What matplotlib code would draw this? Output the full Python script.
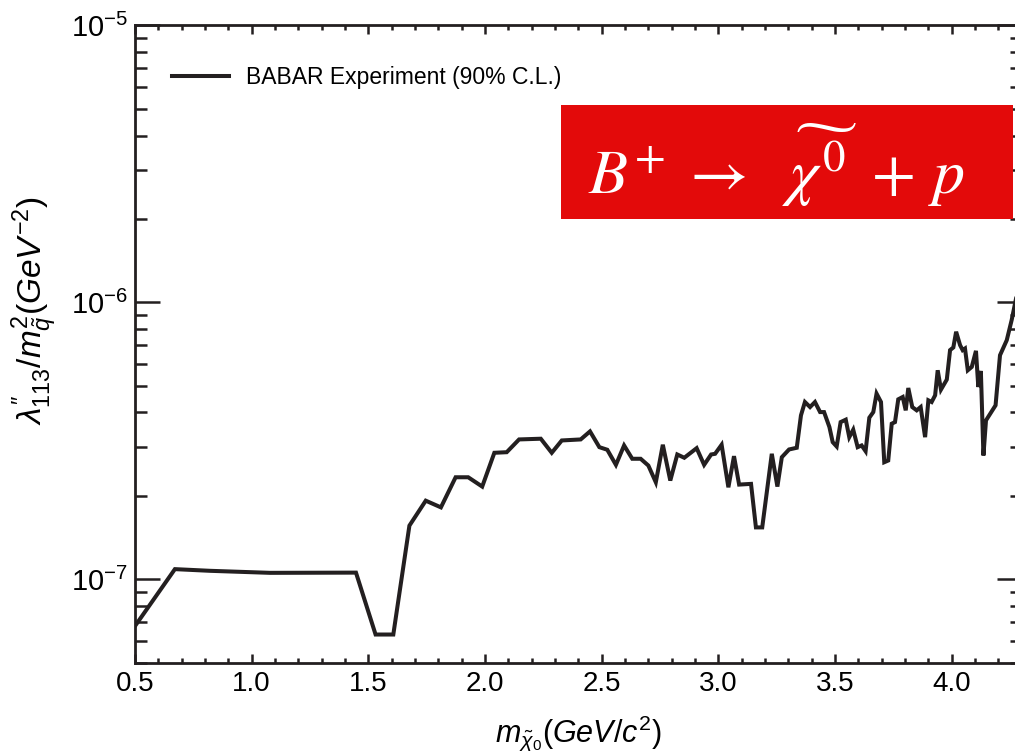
import matplotlib
matplotlib.use("Agg")
import matplotlib.pyplot as plt
from matplotlib.patches import Rectangle
from matplotlib.ticker import MultipleLocator, LogLocator, NullFormatter, FormatStrFormatter

plt.rcParams['font.family'] = ['Liberation Sans', 'DejaVu Sans']
plt.rcParams['mathtext.fontset'] = 'custom'
plt.rcParams['mathtext.rm'] = 'Liberation Sans'
plt.rcParams['mathtext.it'] = 'Liberation Sans:italic'
plt.rcParams['mathtext.bf'] = 'Liberation Sans:bold'

# Neutralino mass (GeV/c^2)
mass = [0.500, 0.671, 0.821, 1.079, 1.447, 1.531, 1.607, 1.676, 1.746, 1.811,
        1.874, 1.928, 1.988, 2.040, 2.093, 2.146, 2.239, 2.286, 2.329, 2.410,
        2.450, 2.490, 2.524, 2.561, 2.596, 2.631, 2.667, 2.700, 2.732, 2.762,
        2.794, 2.824, 2.854, 2.907, 2.939, 2.969, 2.986, 3.014, 3.043, 3.067,
        3.089, 3.140, 3.161, 3.188, 3.229, 3.253, 3.272, 3.303, 3.336, 3.354,
        3.371, 3.393, 3.414, 3.436, 3.453, 3.476, 3.490, 3.507, 3.524, 3.546,
        3.561, 3.578, 3.597, 3.614, 3.631, 3.647, 3.664, 3.678, 3.697, 3.711,
        3.728, 3.743, 3.757, 3.771, 3.790, 3.803, 3.814, 3.831, 3.850, 3.867,
        3.886, 3.900, 3.914, 3.929, 3.940, 3.954, 3.979, 3.993, 4.007, 4.019,
        4.036, 4.047, 4.057, 4.069, 4.086, 4.104, 4.114, 4.125, 4.136, 4.147,
        4.188, 4.207, 4.236, 4.257, 4.300]

# 90% C.L. upper limit on lambda''_113 / m_squark^2, in units of 1e-7 GeV^-2
limit_e7 = [0.677, 1.087, 1.072, 1.054, 1.056, 0.631, 0.631, 1.561, 1.921, 1.817,
            2.334, 2.334, 2.160, 2.861, 2.875, 3.197, 3.216, 2.861, 3.170, 3.197,
            3.418, 2.998, 2.934, 2.588, 3.041, 2.722, 2.722, 2.573, 2.239, 3.059,
            2.271, 2.821, 2.745, 2.973, 2.588, 2.821, 2.837, 3.059, 2.147, 2.782,
            2.196, 2.209, 1.538, 1.538, 2.837, 2.160, 2.758, 2.941, 2.983, 3.905,
            4.364, 4.185, 4.364, 4.014, 4.014, 3.543, 3.126, 3.015, 3.693, 3.768,
            3.258, 3.467, 2.998, 3.041, 2.900, 3.831, 4.014, 4.681, 4.364, 2.645,
            2.683, 3.644, 3.693, 4.463, 4.550, 4.072, 4.904, 4.185, 4.072, 4.185,
            3.258, 4.426, 4.364, 4.615, 5.684, 4.839, 5.260, 6.720, 6.870, 7.830,
            7.000, 6.720, 6.810, 5.684, 5.844, 6.680, 4.945, 5.651, 2.798, 3.746,
            4.246, 6.440, 7.300, 8.630, 13.00]

limit = [v * 1e-7 for v in limit_e7]

legend_label = "BABAR Experiment (90% C.L.)"
x_label = r"$m_{\tilde{\chi}_0}(GeV/c^2)$"
y_label = r"$\lambda^{\prime\prime}_{113}/m^2_{\tilde{q}}(GeV^{-2})$"
process_label = r"$B^{+}\;\rightarrow\ \ \widetilde{\chi^{0}}\ +\,p$"

W, H = 1015, 754
fig = plt.figure(figsize=(W / 100, H / 100), dpi=100)
ax = fig.add_axes([135 / W, 91.5 / H, 886.7 / W, 637 / H])

line_color = "#231f20"
ax.plot(mass, limit, color=line_color, lw=2.9, solid_joinstyle="miter",
        label=legend_label)

ax.set_yscale("log")
ax.set_xlim(0.5, 4.3)
ax.set_ylim(5e-8, 1e-5)

ax.xaxis.set_major_locator(MultipleLocator(0.5))
ax.xaxis.set_minor_locator(MultipleLocator(0.1))
ax.xaxis.set_major_formatter(FormatStrFormatter("%.1f"))
ax.yaxis.set_major_locator(LogLocator(base=10, numticks=10))
ax.yaxis.set_minor_locator(LogLocator(base=10, subs=range(2, 10), numticks=20))
ax.yaxis.set_minor_formatter(NullFormatter())

for s in ax.spines.values():
    s.set_linewidth(2.0)
    s.set_color(line_color)

ax.tick_params(axis="both", which="both", direction="in", top=True, right=True,
               color=line_color, width=1.8)
ax.tick_params(axis="x", which="major", length=6.5, labelsize=20, pad=6)
ax.tick_params(axis="x", which="minor", length=3.8)
ax.tick_params(axis="y", which="major", length=18, labelsize=21, pad=5)
ax.tick_params(axis="y", which="minor", length=8.6)

ax.set_xlabel(x_label, fontsize=22, labelpad=12)
ax.set_ylabel(y_label, fontsize=24)
ax.yaxis.set_label_coords(-0.086, 0.552)

ax.legend(loc="center left", bbox_to_anchor=(0.0417, 0.919), frameon=False,
          fontsize=16.5, handlelength=2.5, handletextpad=0.75, borderpad=0,
          borderaxespad=0)

# Highlighted decay channel
fig.patches.append(Rectangle((561 / W, 1 - 219 / H), 452 / W, 114 / H,
                             transform=fig.transFigure, facecolor="#e30a0a",
                             edgecolor="none", zorder=5))
fig.text(776 / W, 1 - 165 / H, process_label, color="white", fontsize=46,
         ha="center", va="center", math_fontfamily="stix", zorder=6)

fig.savefig("out.png", dpi=100)
